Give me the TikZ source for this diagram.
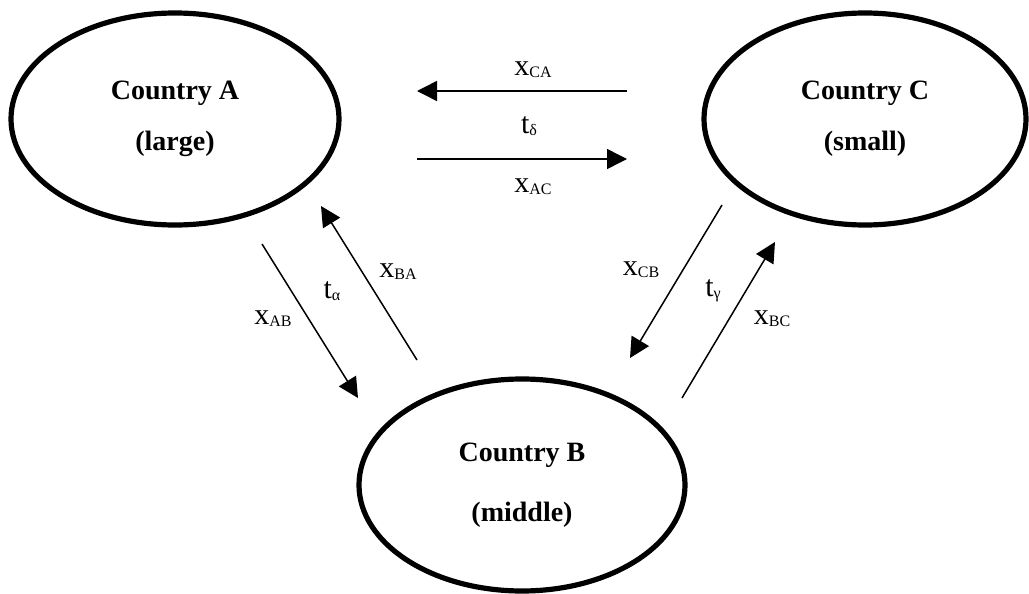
\documentclass[tikz,border=0pt]{standalone}
\usepackage{fontspec}
\setmainfont{Liberation Serif}
\usetikzlibrary{shapes.geometric, arrows.meta}

\newcommand{\flowlbl}[2]{#1{\fontsize{8}{9}\selectfont\raisebox{-0.3ex}{#2}}}

\begin{document}
\begin{tikzpicture}[x=0.5pt, y=-0.5pt,
  country/.style={ellipse, draw, line width=2.6pt, inner sep=0pt, align=center,
    font=\fontsize{14}{25.5}\selectfont\bfseries},
  flow/.style={line width=0.75pt, -{Triangle[length=10pt, width=10pt]}},
  lbl/.style={inner sep=0pt, font=\fontsize{15}{16}\selectfont}]
  \useasboundingbox (0,0) rectangle (1029,594);

  % The three countries
  \node[country, minimum width=164pt, minimum height=106pt] (A) at (175,119) {Country A\\(large)};
  \node[country, minimum width=161pt, minimum height=106pt] (C) at (865,119) {Country C\\(small)};
  \node[country, minimum width=163pt, minimum height=106pt] (B) at (522,485) {Country B\\[4.5pt](middle)};

  % End points of the trade flows
  \coordinate (ca-s) at (627,91);  \coordinate (ca-e) at (417,91);
  \coordinate (ac-s) at (417,159); \coordinate (ac-e) at (627,159);
  \coordinate (ab-s) at (262,244); \coordinate (ab-e) at (358,398);
  \coordinate (ba-s) at (417,360); \coordinate (ba-e) at (321,206);
  \coordinate (cb-s) at (722,205); \coordinate (cb-e) at (630,358);
  \coordinate (bc-s) at (682,398); \coordinate (bc-e) at (775,242);

  % Trade flows between A and C
  \draw[flow] (ca-s) -- (ca-e);
  \draw[flow] (ac-s) -- (ac-e);
  \node[lbl] (xca) at (533,70) {\flowlbl{x}{CA}};
  \node[lbl] (td) at (529,126) {\flowlbl{t}{δ}};
  \node[lbl] (xac) at (533,187) {\flowlbl{x}{AC}};

  % Trade flows between A and B
  \draw[flow] (ab-s) -- (ab-e);
  \draw[flow] (ba-s) -- (ba-e);
  \node[lbl] (xab) at (273,319) {\flowlbl{x}{AB}};
  \node[lbl] (ta) at (332,291) {\flowlbl{t}{α}};
  \node[lbl] (xba) at (398,272) {\flowlbl{x}{BA}};

  % Trade flows between C and B
  \draw[flow] (cb-s) -- (cb-e);
  \draw[flow] (bc-s) -- (bc-e);
  \node[lbl] (xcb) at (641,270) {\flowlbl{x}{CB}};
  \node[lbl] (tg) at (713,291) {\flowlbl{t}{γ}};
  \node[lbl] (xbc) at (772,319) {\flowlbl{x}{BC}};
\end{tikzpicture}
\end{document}
